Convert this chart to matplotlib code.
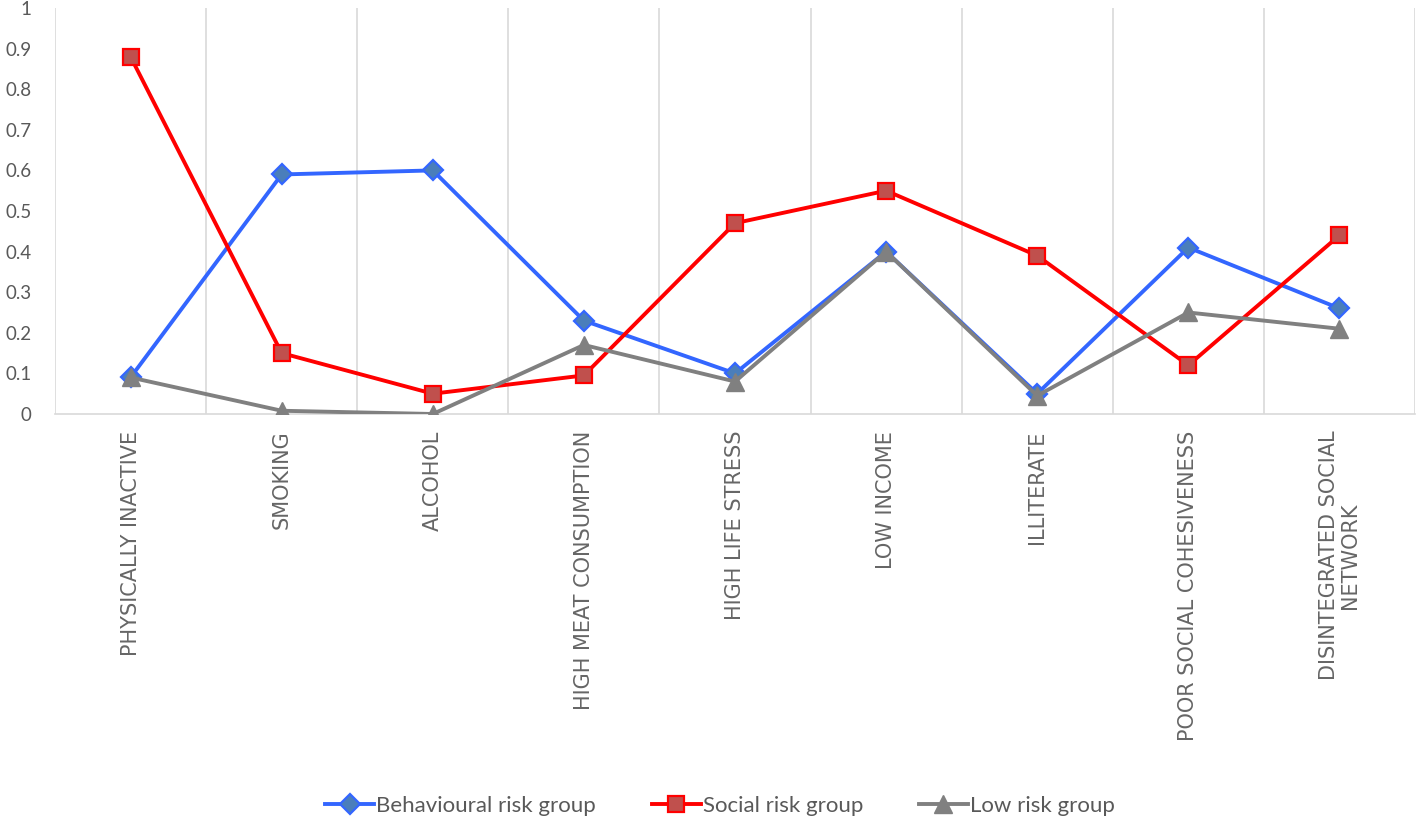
import matplotlib
matplotlib.use("Agg")
import matplotlib.pyplot as plt
import numpy as np

categories = ["PHYSICALLY INACTIVE", "SMOKING", "ALCOHOL", "HIGH MEAT CONSUMPTION",
              "HIGH LIFE STRESS", "LOW INCOME", "ILLITERATE", "POOR SOCIAL COHESIVENESS",
              "DISINTEGRATED SOCIAL\nNETWORK"]
behavioural = [0.09, 0.59, 0.60, 0.23, 0.10, 0.40, 0.05, 0.41, 0.26]
social = [0.88, 0.15, 0.05, 0.095, 0.47, 0.55, 0.39, 0.12, 0.44]
low = [0.09, 0.008, 0.0, 0.17, 0.08, 0.40, 0.045, 0.25, 0.21]
yticks = [0, 0.1, 0.2, 0.3, 0.4, 0.5, 0.6, 0.7, 0.8, 0.9, 1]
ytick_labels = ["0", "0.1", "0.2", "0.3", "0.4", "0.5", "0.6", "0.7", "0.8", "0.9", "1"]

plt.rcParams['font.family'] = ['Lato', 'DejaVu Sans']
txt = '#595959'
grid = '#d9d9d9'

fig = plt.figure(figsize=(14.17, 8.18), dpi=100)
ax = fig.add_axes([55/1417, 1-414/818, (1415-55)/1417, (414-8)/818])

x = np.arange(len(categories))
ax.plot(x, behavioural, color='#3366ff', lw=2.8, marker='D', ms=10,
        mfc='#4a7ebb', mec='#3366ff', mew=1.6, label='Behavioural risk group', zorder=3)
ax.plot(x, social, color='#ff0000', lw=2.8, marker='s', ms=12,
        mfc='#c0504d', mec='#ff0000', mew=1.6, label='Social risk group', zorder=4)
ax.plot(x, low, color='#808080', lw=2.8, marker='^', ms=13,
        mfc='#808080', mec='#808080', mew=1, label='Low risk group', zorder=5)

ax.set_xlim(-0.5, len(categories) - 0.5)
ax.set_ylim(0, 1)
ax.set_yticks(yticks)
ax.set_yticklabels(ytick_labels)
ax.set_xticks(x)
ax.set_xticklabels(categories, rotation=90, va='top', ha='center', multialignment='center',
                   fontfamily='DejaVu Sans', fontsize=15, color='#666666',
                   linespacing=1.1)
ax.tick_params(axis='x', length=0, pad=12)
ax.tick_params(axis='y', length=0, pad=17, labelsize=13.5, colors=txt)
for b in np.arange(-0.5, len(categories), 1.0):
    ax.axvline(b, color=grid, lw=1.2, zorder=0)
for s in ['top', 'right', 'left']:
    ax.spines[s].set_visible(False)
ax.spines['bottom'].set_color(grid)
ax.spines['bottom'].set_linewidth(1.2)
ax.patch.set_alpha(0)

leg = fig.legend(loc='center', bbox_to_anchor=(720/1417, 1-806/818), ncol=3, frameon=False,
                 fontsize=16, handlelength=2.2, columnspacing=2.5, handletextpad=0.1,
                 labelcolor=txt)

fig.savefig('out.png', dpi=100)
